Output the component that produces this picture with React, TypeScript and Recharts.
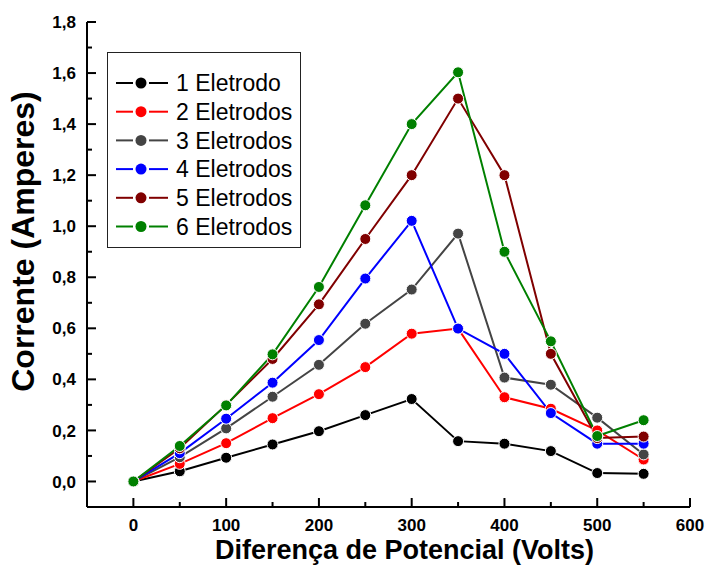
import React from 'react';
import { LineChart, Line, XAxis, YAxis, Legend } from 'recharts';

const voltages = [0, 50, 100, 150, 200, 250, 300, 350, 400, 450, 500, 550];
const eletrodo1 = [0, 0.04, 0.093, 0.145, 0.197, 0.26, 0.323, 0.158, 0.148, 0.119, 0.033, 0.03];
const eletrodos2 = [0, 0.069, 0.15, 0.248, 0.342, 0.448, 0.579, 0.599, 0.33, 0.285, 0.2, 0.086];
const eletrodos3 = [0, 0.095, 0.208, 0.332, 0.457, 0.618, 0.752, 0.971, 0.407, 0.379, 0.25, 0.106];
const eletrodos4 = [0, 0.111, 0.246, 0.387, 0.554, 0.795, 1.021, 0.599, 0.5, 0.268, 0.148, 0.148];
const eletrodos5 = [0, 0.13, 0.3, 0.48, 0.694, 0.95, 1.2, 1.5, 1.2, 0.5, 0.17, 0.176];
const eletrodos6 = [0, 0.139, 0.298, 0.498, 0.762, 1.082, 1.4, 1.603, 0.9, 0.549, 0.178, 0.24];

const seriesNames = ['1 Eletrodo', '2 Eletrodos', '3 Eletrodos', '4 Eletrodos', '5 Eletrodos', '6 Eletrodos'];
const seriesColors = ['#000000', '#ff0000', '#444444', '#0000ff', '#800000', '#008000'];
const seriesValues = [eletrodo1, eletrodos2, eletrodos3, eletrodos4, eletrodos5, eletrodos6];

const xTicks = [0, 50, 100, 150, 200, 250, 300, 350, 400, 450, 500, 550, 600];
const xMajor = [0, 100, 200, 300, 400, 500, 600];
const yTicks = [0, 0.1, 0.2, 0.3, 0.4, 0.5, 0.6, 0.7, 0.8, 0.9, 1.0, 1.1, 1.2, 1.3, 1.4, 1.5, 1.6, 1.7, 1.8];
const yMajor = [0, 0.2, 0.4, 0.6, 0.8, 1.0, 1.2, 1.4, 1.6, 1.8];

const xTitle = 'Diferença de Potencial (Volts)';
const yTitle = 'Corrente (Amperes)';

const data = voltages.map((v, i) => {
  const row: any = { v };
  seriesValues.forEach((s, k) => {
    row['s' + k] = s[i];
  });
  return row;
});

const FONT = '"Liberation Sans", Arial, Helvetica, sans-serif';
const MAJOR = 9;
const MINOR = 5;

const isMajor = (list: number[], v: number) => list.some((m) => Math.abs(m - v) < 1e-6);
const fmtY = (v: number) => v.toFixed(1).replace('.', ',');

const BottomTick = (props: any) => {
  const { x, y, payload } = props;
  const major = isMajor(xMajor, payload.value);
  return (
    <g>
      <line x1={x} x2={x} y1={y} y2={y - (major ? MAJOR : MINOR)} stroke="#000" strokeWidth={2} />
      {major && (
        <text x={x} y={y + 24} textAnchor="middle" fontFamily={FONT} fontWeight="bold" fontSize={17} fill="#000">
          {payload.value}
        </text>
      )}
    </g>
  );
};

const TopTick = (props: any) => {
  const { x, y, payload } = props;
  const major = isMajor(xMajor, payload.value);
  return <line x1={x} x2={x} y1={y} y2={y + (major ? MAJOR : MINOR)} stroke="#000" strokeWidth={2} />;
};

const LeftTick = (props: any) => {
  const { x, y, payload } = props;
  const major = isMajor(yMajor, payload.value);
  return (
    <g>
      <line x1={x} x2={x + (major ? MAJOR : MINOR)} y1={y} y2={y} stroke="#000" strokeWidth={2} />
      {major && (
        <text x={x - 11} y={y} dy="0.36em" textAnchor="end" fontFamily={FONT} fontWeight="bold" fontSize={17} fill="#000">
          {fmtY(payload.value)}
        </text>
      )}
    </g>
  );
};

const RightTick = (props: any) => {
  const { x, y, payload } = props;
  const major = isMajor(yMajor, payload.value);
  return <line x1={x} x2={x - (major ? MAJOR : MINOR)} y1={y} y2={y} stroke="#000" strokeWidth={2} />;
};

const XTitle = (props: any) => {
  const vb = props.viewBox || {};
  const cx = vb.x + vb.width / 2 + 16;
  return (
    <text x={cx} y={559} textAnchor="middle" fontFamily={FONT} fontWeight="bold" fontSize={27} fill="#000">
      {xTitle}
    </text>
  );
};

const YTitle = (props: any) => {
  const vb = props.viewBox || {};
  const cy = vb.y + vb.height / 2 - 23;
  return (
    <text
      x={34}
      y={cy}
      transform={`rotate(-90, 34, ${cy})`}
      textAnchor="middle"
      fontFamily={FONT}
      fontWeight="bold"
      fontSize={32}
      fill="#000"
    >
      {yTitle}
    </text>
  );
};

const LegendBox = () => {
  const rowStart = 31;
  const rowStep = 28.7;
  return (
    <svg width={194} height={196} style={{ display: 'block' }}>
      <rect x={0.5} y={0.5} width={193} height={195} fill="#fff" stroke="#222" strokeWidth={1} />
      {seriesNames.map((name, i) => {
        const cy = rowStart + i * rowStep;
        const c = seriesColors[i];
        return (
          <g key={name}>
            <line x1={9} x2={26} y1={cy} y2={cy} stroke={c} strokeWidth={2} />
            <line x1={42} x2={61} y1={cy} y2={cy} stroke={c} strokeWidth={2} />
            <circle cx={34} cy={cy} r={5.5} fill={c} />
            <text x={69} y={cy} dy="0.36em" fontFamily={FONT} fontSize={23} fill="#000">
              {name}
            </text>
          </g>
        );
      })}
    </svg>
  );
};

export default function App() {
  return (
    <div style={{ position: 'absolute', left: 0, top: 0, width: 705, height: 565, background: '#fff' }}>
      <LineChart width={705} height={565} data={data} margin={{ top: 22, right: 15, bottom: 0, left: 0 }}>
        <XAxis
          dataKey="v"
          type="number"
          domain={[-50, 600]}
          ticks={xTicks}
          interval={0}
          allowDataOverflow
          height={58}
          tickSize={0}
          tickMargin={0}
          tickLine={false}
          axisLine={{ stroke: '#000', strokeWidth: 2 }}
          tick={<BottomTick />}
          label={<XTitle />}
        />
        <XAxis
          xAxisId="top"
          dataKey="v"
          type="number"
          orientation="top"
          domain={[-50, 600]}
          ticks={xTicks}
          interval={0}
          allowDataOverflow
          height={0}
          tickSize={0}
          tickMargin={0}
          tickLine={false}
          axisLine={{ stroke: '#000', strokeWidth: 2 }}
          tick={<TopTick />}
        />
        <YAxis
          type="number"
          domain={[-0.1, 1.8]}
          ticks={yTicks}
          interval={0}
          allowDataOverflow
          width={87}
          tickSize={0}
          tickMargin={0}
          tickLine={false}
          axisLine={{ stroke: '#000', strokeWidth: 2 }}
          tick={<LeftTick />}
          label={<YTitle />}
        />
        <YAxis
          yAxisId="right"
          type="number"
          orientation="right"
          domain={[-0.1, 1.8]}
          ticks={yTicks}
          interval={0}
          allowDataOverflow
          width={0}
          tickSize={0}
          tickMargin={0}
          tickLine={false}
          axisLine={{ stroke: '#000', strokeWidth: 2 }}
          tick={<RightTick />}
        />
        <Legend
          layout="vertical"
          align="center"
          verticalAlign="middle"
          content={<LegendBox />}
          wrapperStyle={{ position: 'absolute', left: 107, top: 52, width: 194, height: 196 }}
        />
        {seriesNames.map((name, k) => (
          <Line
            key={name}
            name={name}
            dataKey={'s' + k}
            stroke={seriesColors[k]}
            strokeWidth={2}
            dot={{ r: 5.5, fill: seriesColors[k], stroke: '#fff', strokeWidth: 1 }}
            activeDot={false}
            isAnimationActive={false}
          />
        ))}
      </LineChart>
    </div>
  );
}
